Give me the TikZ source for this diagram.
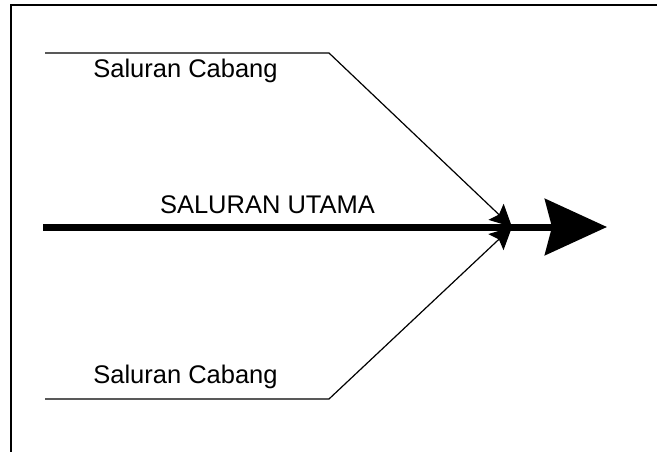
\documentclass[tikz,border=0pt]{standalone}
\usepackage{fontspec}
\setmainfont{Liberation Sans}
\usetikzlibrary{arrows.meta}

\begin{document}
\begin{tikzpicture}[x=1pt,y=1pt]
        \tikzstyle{every node}+=[inner sep=0pt, font=\fontsize{25.5}{30}\selectfont]
        \tikzstyle{cabang}=[black, line width=1.2pt, -{Stealth[length=22pt,width=22pt,inset=4pt]}]
        \useasboundingbox (0,0) rectangle (657,-452);
        \clip (0,0) rectangle (657,-452);
        % frame
        \draw [black, line width=2pt] (11,-470) -- (11,-5) -- (680,-5);
        \coordinate (mulai) at (43,-227);
        \coordinate (ujung) at (607,-227);
        \coordinate (temu) at (512,-227);
        \coordinate (atas0) at (45,-53);
        \coordinate (atas1) at (329,-53);
        \coordinate (bawah0) at (45,-399);
        \coordinate (bawah1) at (329,-399);
        \draw [black, line width=7pt, -{Stealth[length=62pt,width=56pt,inset=7pt]}] (mulai) -- (ujung);
        \draw [cabang] (atas0) -- (atas1) -- (temu);
        \draw [cabang] (bawah0) -- (bawah1) -- (temu);
        \node (cabangatas) [anchor=base] at (185.5,-78) {Saluran Cabang};
        \node (cabangbawah) [anchor=base] at (185.5,-383) {Saluran Cabang};
        \node (utama) [anchor=base] at (267.5,-213) {SALURAN UTAMA};
\end{tikzpicture}
\end{document}
